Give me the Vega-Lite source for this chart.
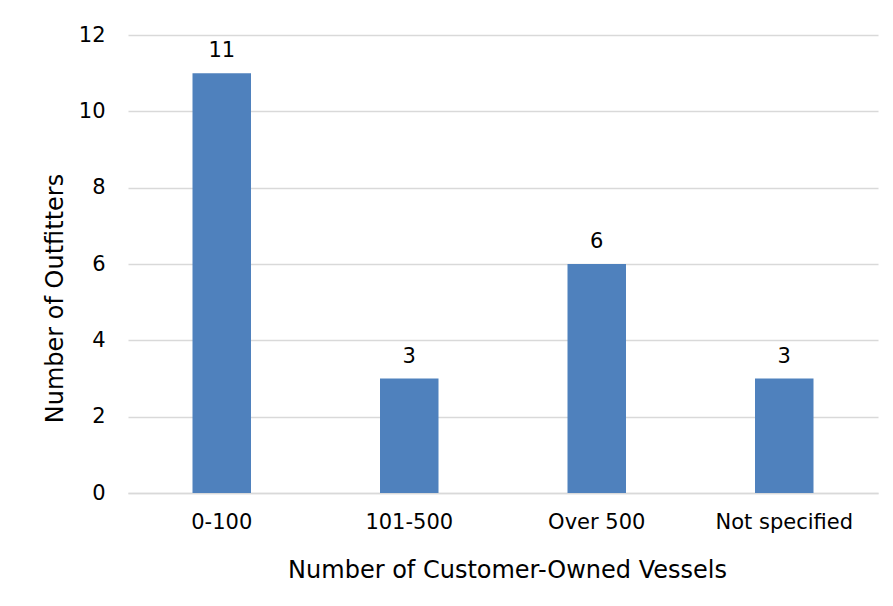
{
  "$schema": "https://vega.github.io/schema/vega-lite/v6.json",
  "width": 750,
  "height": 458,
  "autosize": "none",
  "padding": {"left": 128, "top": 35, "right": 15, "bottom": 113},
  "background": "white",
  "config": {
    "view": {"stroke": null},
    "font": "DejaVu Sans"
  },
  "data": {
    "values": [
      {"category": "0-100", "count": 11},
      {"category": "101-500", "count": 3},
      {"category": "Over 500", "count": 6},
      {"category": "Not specified", "count": 3}
    ]
  },
  "encoding": {
    "x": {
      "field": "category",
      "type": "nominal",
      "sort": null,
      "scale": {"paddingInner": 0.688, "paddingOuter": 0.344},
      "axis": {
        "title": "Number of Customer-Owned Vessels",
        "labelAngle": 0,
        "labelFontSize": 21,
        "labelColor": "#000000",
        "labelPadding": 18,
        "ticks": false,
        "domainColor": "#d9d9d9",
        "domainWidth": 1.5,
        "titleFontSize": 24,
        "titleFontWeight": "normal",
        "titleColor": "#000000",
        "titleBaseline": "alphabetic",
        "titleX": 379,
        "titleY": 84
      }
    },
    "y": {
      "field": "count",
      "type": "quantitative",
      "scale": {"domain": [0, 12]},
      "axis": {
        "title": "Number of Outfitters",
        "values": [0, 2, 4, 6, 8, 10, 12],
        "labelFontSize": 21,
        "labelColor": "#000000",
        "labelPadding": 23,
        "ticks": false,
        "domain": false,
        "gridColor": "#d9d9d9",
        "gridWidth": 1.5,
        "titleFontSize": 24,
        "titleFontWeight": "normal",
        "titleColor": "#000000",
        "titleAngle": -90,
        "titleAlign": "center",
        "titleBaseline": "alphabetic",
        "titleX": -66,
        "titleY": 263
      }
    }
  },
  "layer": [
    {"mark": {"type": "bar", "color": "#4F81BD"}},
    {
      "mark": {"type": "text", "baseline": "alphabetic", "dy": -16, "fontSize": 21, "color": "#000000"},
      "encoding": {"text": {"field": "count", "type": "quantitative"}}
    }
  ]
}
